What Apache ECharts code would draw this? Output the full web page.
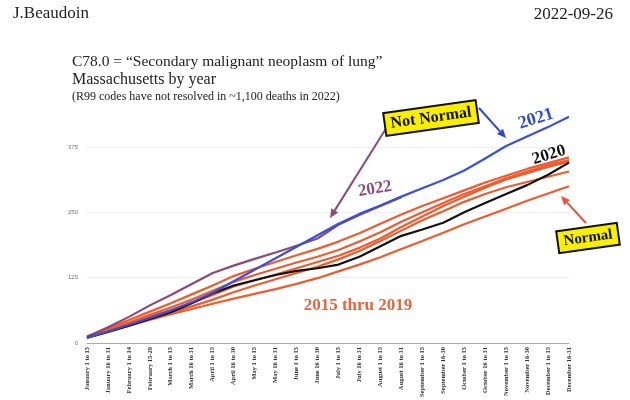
<!DOCTYPE html>
<html>
<head>
<meta charset="utf-8">
<script src="https://cdn.jsdelivr.net/npm/echarts@6/dist/echarts.min.js"></script>
<style>
html,body{margin:0;padding:0;background:#fff;}
#chart{width:630px;height:400px;}
</style>
</head>
<body>
<div id="chart"></div>
<script>
var categories = [
  "January 1 to 15","January 16 to 31","February 1 to 14","February 15-29",
  "March 1 to 15","March 16 to 31","April 1 to 15","April 16 to 30",
  "May 1 to 15","May 16 to 31","June 1 to 15","June 16 to 30",
  "July 1 to 15","July 16 to 31","August 1 to 15","August 16 to 31",
  "September 1 to 15","September 16-30","October 1 to 15","October 16 to 31",
  "November 1 to 15","November 16-30","December 1 to 15","December 16-31"
];
var yTicks = [0, 125, 250, 375];

var y2015 = [12,28,44,60,76,93,110,128,142,155,168,180,194,210,228,246,262,277,292,307,320,333,344,355];
var y2016 = [11,25,39,54,68,83,100,117,130,142,154,165,178,194,212,232,250,268,285,300,315,328,340,350];
var y2017 = [13,26,38,51,63,77,92,108,120,131,143,155,167,182,200,222,242,262,280,297,313,325,337,347];
var y2018 = [10,23,35,47,58,70,83,97,110,122,134,146,160,176,195,215,235,252,270,285,298,308,318,328];
var y2019 = [10,21,33,44,55,65,75,85,94,103,113,124,137,150,164,180,195,211,227,242,257,272,286,300];
var y2020 = [10,21,33,46,59,76,95,110,120,130,138,143,150,165,185,205,217,230,250,268,285,302,322,345];
var y2021 = [10,22,35,48,62,78,96,118,140,162,184,206,228,247,263,280,296,312,330,353,377,395,413,433];
var y2022 = [12,30,50,72,92,113,134,148,161,173,186,200,226,245,262,279];

var serif = "'Liberation Serif', 'DejaVu Serif', serif";
var orange = '#f05a2c';

function lineSeries(name, data, color, z) {
  return {
    name: name, type: 'line', data: data, symbol: 'none', smooth: false, z: z,
    lineStyle: { color: color, width: 2.2 }, itemStyle: { color: color }
  };
}

function arrow(x1, y1, x2, y2, color) {
  var ang = Math.atan2(y2 - y1, x2 - x1);
  var L = 9, W = 4;
  var bx = x2 - L * Math.cos(ang), by = y2 - L * Math.sin(ang);
  var px = -Math.sin(ang) * W, py = Math.cos(ang) * W;
  return [
    { type: 'line', shape: { x1: x1, y1: y1, x2: bx, y2: by }, style: { stroke: color, lineWidth: 2 }, z: 100 },
    { type: 'polygon', shape: { points: [[x2, y2], [bx + px, by + py], [bx - px, by - py]] }, style: { fill: color }, z: 100 }
  ];
}

function label(text, x, y, rot, size, color, extra) {
  var st = { text: text, font: 'bold ' + size + 'px ' + serif, fill: color, align: 'center', verticalAlign: 'middle' };
  if (extra) { for (var k in extra) st[k] = extra[k]; }
  return { type: 'text', x: x, y: y, rotation: rot, style: st, z: 110 };
}

var graphics = [
  { type: 'text', left: 13, top: 5, style: { text: 'J.Beaudoin', font: '17px ' + serif, fill: '#222' } },
  { type: 'text', right: 17, top: 6, style: { text: '2022-09-26', font: '17px ' + serif, fill: '#222' } },
  { type: 'text', left: 72, top: 54, style: { text: 'C78.0 = \u201cSecondary malignant neoplasm of lung\u201d', font: '15.5px ' + serif, fill: '#222' } },
  { type: 'text', left: 72, top: 72, style: { text: 'Massachusetts by year', font: '16px ' + serif, fill: '#222' } },
  { type: 'text', left: 72, top: 91, style: { text: '(R99 codes have not resolved in ~1,100 deaths in 2022)', font: '12px ' + serif, fill: '#222' } }
];
graphics = graphics.concat(arrow(387, 127, 330, 218, '#8b4a78'));
graphics = graphics.concat(arrow(479, 108, 506, 138, '#2f44d8'));
graphics = graphics.concat(arrow(586, 223, 561, 196, '#e8553a'));
graphics.push(label('Not Normal', 431, 118, 0.14, 16, '#111',
  { backgroundColor: '#f8f000', borderColor: '#111', borderWidth: 2, padding: [3, 5, 2, 5] }));
graphics.push(label('Normal', 588, 238, 0.14, 15, '#111',
  { backgroundColor: '#f8f000', borderColor: '#111', borderWidth: 2, padding: [3, 5, 2, 5] }));
graphics.push(label('2021', 536, 119, 0.3, 18, '#2f4ad8'));
graphics.push(label('2020', 549, 155, 0.3, 17, '#111'));
graphics.push(label('2022', 375, 189, 0.16, 17, '#8e4a7e'));
graphics.push(label('2015 thru 2019', 358, 306, 0, 17, '#e8643c'));

var chart = echarts.init(document.getElementById('chart'));
chart.setOption({
  animation: false,
  backgroundColor: '#fff',
  grid: { left: 87, right: 61, top: 113, bottom: 57 },
  xAxis: {
    type: 'category', data: categories, boundaryGap: false,
    axisLine: { lineStyle: { color: '#aaa', width: 1 } },
    axisTick: { show: false },
    axisLabel: { rotate: 90, interval: 0, fontSize: 6.5, fontWeight: 'bold', color: '#333', fontFamily: serif, margin: 4 },
    splitLine: { show: false }
  },
  yAxis: {
    type: 'value', min: 0, max: 440,
    axisLine: { show: false },
    axisTick: { show: false, customValues: yTicks },
    axisLabel: { customValues: yTicks, fontSize: 6, color: '#777', margin: 9 },
    splitLine: { show: true, lineStyle: { color: '#eeeeee', width: 1 } }
  },
  series: [
    lineSeries('2015', y2015, orange, 2),
    lineSeries('2016', y2016, orange, 2),
    lineSeries('2017', y2017, orange, 2),
    lineSeries('2018', y2018, orange, 2),
    lineSeries('2019', y2019, orange, 2),
    lineSeries('2022', y2022, '#8b4a78', 3),
    lineSeries('2020', y2020, '#111111', 4),
    lineSeries('2021', y2021, '#3a4ee0', 5)
  ],
  graphic: graphics
});
</script>
</body>
</html>
